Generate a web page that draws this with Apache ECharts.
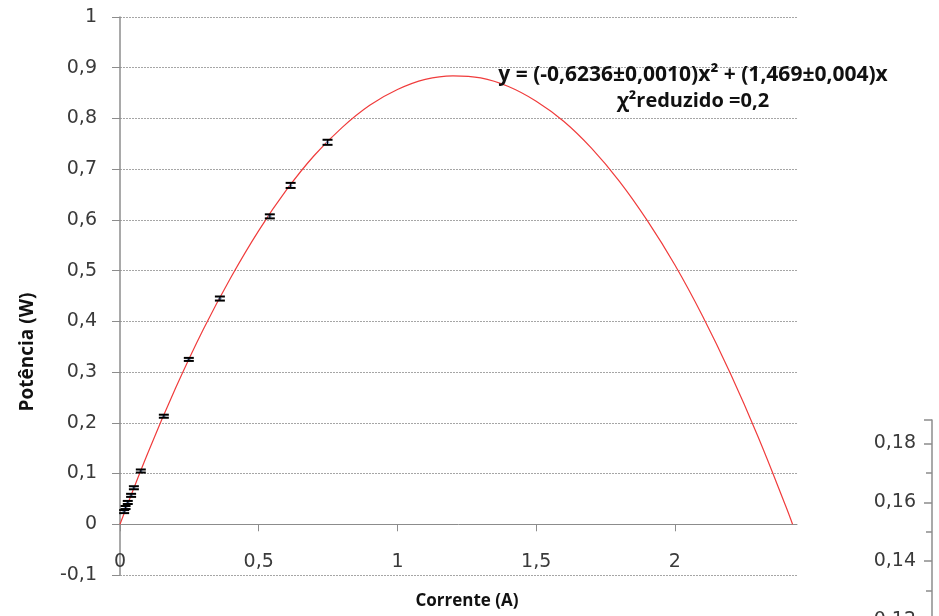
<!DOCTYPE html>
<html>
<head>
<meta charset="utf-8">
<script src="https://cdn.jsdelivr.net/npm/echarts@6/dist/echarts.min.js"></script>
<style>
  html, body { margin: 0; padding: 0; background: #fff; }
  #chart-container { width: 939px; height: 616px; }
</style>
</head>
<body>
<div id="chart-container"></div>
<script>
// medidas (corrente em A, potência em W, incerteza da potência)
var corrente = [0.015, 0.02, 0.028, 0.04, 0.05, 0.075, 0.158, 0.248, 0.36, 0.54, 0.615, 0.748];
var potencia = [0.025, 0.033, 0.043, 0.057, 0.072, 0.105, 0.213, 0.325, 0.445, 0.607, 0.668, 0.753];
var incerteza = [0.003, 0.003, 0.003, 0.003, 0.003, 0.003, 0.003, 0.003, 0.004, 0.004, 0.005, 0.005];

// linha de tendência
var curvaX = [0, 0.1, 0.2, 0.3, 0.4, 0.5, 0.6, 0.7, 0.8, 0.9, 1.0, 1.1, 1.2, 1.3, 1.4, 1.5, 1.6, 1.7, 1.8, 1.9, 2.0, 2.1, 2.2, 2.3, 2.4, 2.424];
var curvaY = [0, 0.140, 0.268, 0.384, 0.487, 0.579, 0.659, 0.727, 0.782, 0.826, 0.857, 0.877, 0.884, 0.880, 0.863, 0.834, 0.794, 0.741, 0.676, 0.599, 0.511, 0.410, 0.297, 0.172, 0.035, 0];

var ticksX = [0, 0.5, 1, 1.5, 2];
var ticksInset = [0.12, 0.14, 0.16, 0.18];

var equacao = 'y = (-0,6236±0,0010)x² + (1,469±0,004)x';
var chiReduzido = 'χ²reduzido =0,2';

var dom = document.getElementById('chart-container');
var myChart = echarts.init(dom);

function virgula(v) {
  return String(+v.toFixed(2)).replace('.', ',');
}

var pontos = corrente.map(function (x, i) {
  return [x, potencia[i], incerteza[i]];
});
var curva = curvaX.map(function (x, i) {
  return [x, curvaY[i]];
});

// barras de erro em y
function renderErro(params, api) {
  var x = api.value(0), y = api.value(1), e = api.value(2);
  var topo = api.coord([x, y + e]);
  var base = api.coord([x, y - e]);
  var hw = 5;
  var estilo = { stroke: '#000', lineWidth: 2 };
  return {
    type: 'group',
    children: [
      { type: 'line', shape: { x1: topo[0], y1: topo[1], x2: base[0], y2: base[1] }, style: { stroke: '#000', lineWidth: 1 } },
      { type: 'line', shape: { x1: topo[0] - hw, y1: topo[1], x2: topo[0] + hw, y2: topo[1] }, style: estilo },
      { type: 'line', shape: { x1: base[0] - hw, y1: base[1], x2: base[0] + hw, y2: base[1] }, style: estilo }
    ]
  };
}

var corTexto = '#3a3a3a';
var corEixo = '#8c8c8c';
var fonteEixo = 'DejaVu Sans';

myChart.setOption({
  backgroundColor: '#fff',
  animation: false,
  grid: [
    { left: 120, top: 17, width: 677, height: 558, outerBoundsMode: 'none' },
    { left: 932, top: 420, width: 100, height: 200, outerBoundsMode: 'none' }
  ],
  xAxis: [
    {
      type: 'value',
      gridIndex: 0,
      min: 0,
      max: 2.44,
      axisLine: { onZero: true, lineStyle: { color: corEixo, width: 1 } },
      axisTick: { show: true, customValues: ticksX, length: 7, lineStyle: { color: corEixo } },
      axisLabel: {
        customValues: ticksX,
        margin: -22,
        color: corTexto,
        fontSize: 19,
        fontFamily: fonteEixo,
        formatter: virgula
      },
      splitLine: { show: false }
    },
    {
      type: 'value',
      gridIndex: 1,
      show: false
    }
  ],
  yAxis: [
    {
      type: 'value',
      gridIndex: 0,
      min: -0.1,
      max: 1,
      interval: 0.1,
      axisLine: { show: true, lineStyle: { color: corEixo, width: 1.5 } },
      axisTick: { show: true, length: 8, lineStyle: { color: corEixo } },
      axisLabel: {
        margin: 23,
        color: corTexto,
        fontSize: 19,
        fontFamily: fonteEixo,
        formatter: virgula
      },
      splitLine: { show: true, lineStyle: { color: '#a6a6a6', type: [2, 1], width: 1 } }
    },
    {
      type: 'value',
      gridIndex: 1,
      min: 0.12,
      max: 0.188,
      interval: 0.02,
      position: 'left',
      axisLine: { show: true, lineStyle: { color: corEixo, width: 1.5 } },
      axisTick: { show: true, length: 8, lineStyle: { color: corEixo, width: 1.5 } },
      minorTick: { show: true, splitNumber: 2, length: 6, lineStyle: { color: corEixo, width: 1.5 } },
      axisLabel: {
        customValues: ticksInset,
        margin: 16,
        color: corTexto,
        fontSize: 19,
        fontFamily: fonteEixo,
        formatter: virgula
      },
      splitLine: { show: false }
    }
  ],
  graphic: [
    {
      type: 'text',
      x: 28,
      y: 352,
      rotation: Math.PI / 2,
      style: {
        text: 'Potência (W)',
        fill: '#111',
        font: 'bold 19px "Open Sans"',
        align: 'center',
        verticalAlign: 'middle'
      }
    },
    {
      type: 'text',
      x: 467,
      y: 601,
      style: {
        text: 'Corrente (A)',
        fill: '#111',
        font: 'bold 17px "Open Sans"',
        align: 'center',
        verticalAlign: 'middle'
      }
    },
    {
      type: 'text',
      x: 693,
      y: 75,
      z: 100,
      style: {
        text: equacao,
        fill: '#111',
        font: 'bold 21px "Open Sans"',
        align: 'center',
        verticalAlign: 'middle'
      }
    },
    {
      type: 'text',
      x: 693,
      y: 101,
      z: 100,
      style: {
        text: chiReduzido,
        fill: '#111',
        font: 'bold 20px "Open Sans"',
        align: 'center',
        verticalAlign: 'middle'
      }
    }
  ],
  series: [
    {
      type: 'line',
      name: 'ajuste',
      xAxisIndex: 0,
      yAxisIndex: 0,
      data: curva,
      smooth: 0.4,
      showSymbol: false,
      lineStyle: { color: '#f03c3c', width: 1.2 },
      z: 2
    },
    {
      type: 'scatter',
      name: 'pontos',
      xAxisIndex: 0,
      yAxisIndex: 0,
      data: pontos,
      symbol: 'diamond',
      symbolSize: 4,
      itemStyle: { color: '#4f81bd' },
      z: 3
    },
    {
      type: 'custom',
      name: 'erro',
      xAxisIndex: 0,
      yAxisIndex: 0,
      data: pontos,
      renderItem: renderErro,
      z: 4
    }
  ]
});

window.addEventListener('resize', myChart.resize);
</script>
</body>
</html>
